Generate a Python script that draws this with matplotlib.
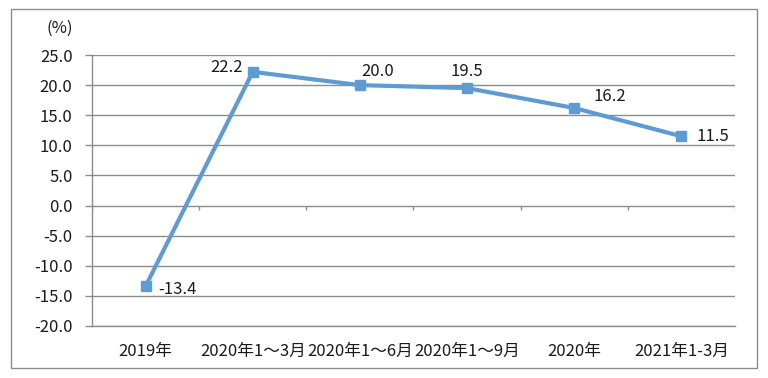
import numpy as np
import matplotlib.pyplot as plt
from matplotlib.patches import Rectangle

plt.rcParams['font.family'] = ['Noto Sans CJK SC', 'DejaVu Sans']
plt.rcParams['axes.unicode_minus'] = False

# 数据
categories = ['2019年', '2020年1～3月', '2020年1～6月', '2020年1～9月', '2020年', '2021年1-3月']
values = [-13.4, 22.2, 20.0, 19.5, 16.2, 11.5]
# 数据标签偏移(点)
label_offsets = [(9, -2), (-7, 3), (1, 10), (0, 12), (14, 8), (11, 0)]
label_align = ['left', 'right', 'left', 'center', 'left', 'left']

grid_color = '#8c8c8c'
line_color = '#5f9bd3'
text_color = '#1a1a1a'

fig = plt.figure(figsize=(7.68, 3.78), dpi=100)
ax = fig.add_axes([92 / 768, 1 - 326 / 378, (735 - 92) / 768, (326 - 55) / 378])

x = np.arange(len(categories))
ax.plot(x, values, color=line_color, lw=3, marker='s', markersize=7, zorder=3)

for i, v in enumerate(values):
    ax.annotate(f'{v:.1f}', (x[i], v), xytext=label_offsets[i], textcoords='offset points',
                ha=label_align[i], va='center', fontsize=12, color=text_color)

ax.set_xlim(-0.5, len(categories) - 0.5)
ax.set_ylim(-20, 25)
ax.set_yticks(np.arange(-20, 26, 5))
ax.set_yticklabels([f'{t:.1f}' for t in np.arange(-20, 26, 5)])
ax.set_xticks(x)
ax.set_xticklabels(categories)
ax.tick_params(axis='x', length=0, pad=12, labelsize=12, labelcolor=text_color)
ax.tick_params(axis='y', length=5, width=1, color=grid_color, pad=9, labelsize=12, labelcolor=text_color)

ax.grid(axis='y', color=grid_color, lw=1)
ax.set_axisbelow(True)
for s in ['top', 'right']:
    ax.spines[s].set_visible(False)
for s in ['left', 'bottom']:
    ax.spines[s].set_color(grid_color)
    ax.spines[s].set_linewidth(1)

# 0 轴上的分类刻度
ax.vlines(np.arange(-0.5, len(categories), 1.0), -0.8, 0, color=grid_color, lw=1)

fig.text(60 / 768, 1 - 28 / 378, '(%)', ha='center', va='center', fontsize=12, color=text_color)

# 外边框
fig.patches.append(Rectangle((11 / 768, 1 - 368 / 378), (757 - 11) / 768, (368 - 9) / 378,
                             transform=fig.transFigure, fill=False, edgecolor=grid_color, lw=1))

fig.savefig('out.png', dpi=100)
